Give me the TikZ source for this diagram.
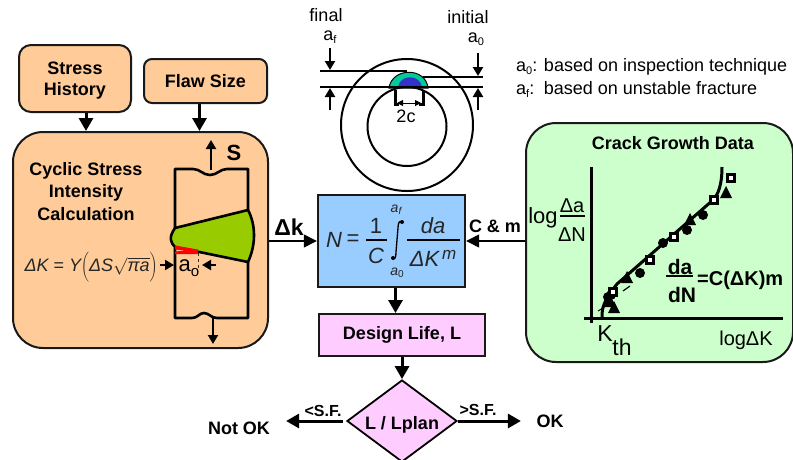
\documentclass[tikz,border=0pt]{standalone}
\usepackage{fontspec}
\setmainfont{Liberation Sans}
\usetikzlibrary{arrows.meta,shapes.geometric,calc}
\definecolor{orangebox}{HTML}{FFCC99}
\definecolor{bluebox}{HTML}{99CCFF}
\definecolor{pinkbox}{HTML}{FFCCFF}
\definecolor{greenbox}{HTML}{CCFFCC}
\definecolor{weld}{HTML}{99CC00}
\definecolor{crescent}{HTML}{00CC99}
\definecolor{core}{HTML}{3333CC}
\newcommand{\fs}[1]{\fontsize{#1}{#1}\selectfont}
\tikzset{
  x=1pt,y=-1pt,
  box/.style={draw=black!90,line width=2pt,inner sep=0pt,align=center,font=\fs{18}\bfseries},
  flow/.style={line width=3pt,-{Triangle[length=13pt,width=14pt]}},
  thinflow/.style={line width=1.3pt,-{Triangle[length=13pt,width=13pt]}},
  small/.style={line width=2.6pt,-{Triangle[length=9pt,width=10pt]}},
  bold/.style={font=\fs{18}\bfseries,inner sep=0pt,align=center},
  plain/.style={font=\fs{18},inner sep=0pt,align=center},
  formula/.style={font=\fs{22}\itshape,inner sep=0pt,text=black!85},
  subs/.style={font=\fs{14}\itshape,inner sep=0pt,text=black!85},
  metal/.style={line width=2.6pt,line join=round},
  bar/.style={line width=1.3pt},
  dim/.style={line width=2.2pt,-{Triangle[length=9pt,width=10pt]}},
  level/.style={line width=2pt},
}
\begin{document}
\begin{tikzpicture}
\useasboundingbox (0,0) rectangle (793,459);
% boxes
\node[box,fill=orangebox,rounded corners=12pt,minimum width=112pt,minimum height=67pt] (stress) at (75,78.5) {};
\node[bold] (stressA) at (75,68) {Stress};
\node[bold] (stressB) at (75,91) {History};
\node[box,fill=orangebox,rounded corners=8pt,minimum width=123pt,minimum height=44pt] (flaw) at (205.5,81) {Flaw Size};
\node[box,fill=orangebox,rounded corners=30pt,minimum width=255pt,minimum height=216pt] (cyc) at (140.5,240) {};
\node[box,fill=bluebox,minimum width=147pt,minimum height=92pt,line width=2.4pt] (eq) at (391.5,241) {};
\node[box,fill=pinkbox,minimum width=166pt,minimum height=42pt] (life) at (402,335) {Design Life, L};
\node[draw=black,fill=pinkbox,diamond,aspect=1.35,line width=1.8pt,inner sep=0pt,minimum width=110pt,minimum height=82pt] (dec) at (402,421) {};
\node[font=\fs{18}\bfseries,inner sep=0pt] (declabel) at (402,425) {L / Lplan};
\node[box,fill=greenbox,rounded corners=30pt,minimum width=267pt,minimum height=239pt] (data) at (659.5,242.5) {};
% flow arrows
\draw[flow] ([xshift=11pt]stress.south) -- ([xshift=11pt]stress.south |- cyc.north);
\draw[flow] ([xshift=-6pt]flaw.south) -- ([xshift=-6pt]flaw.south |- cyc.north);
\draw[thinflow] (cyc.east |- eq.west) -- (eq.west);
\draw[thinflow] (data.west |- eq.east) -- (eq.east);
\draw[flow] ([xshift=4pt]eq.south) -- ([xshift=4pt]eq.south |- life.north);
\draw[flow] (life.south) -- (dec.north);
\draw[flow] ([xshift=-3pt]dec.west) -- ++(-57,0) coordinate (notokEnd);
\draw[flow] (dec.east) -- ++(63,0) coordinate (okEnd);
\node[bold] (dk) at (289,227) {\fs{23}Δk};
\node[bold] (cm) at (495,226) {C \& m};
\node[bold,font=\fs{16}\bfseries] (lsf) at (323,411) {<S.F.};
\node[bold,font=\fs{16}\bfseries] (gsf) at (478,410) {>S.F.};
\node[bold] (notok) at (239,428) {Not OK};
\node[bold] (ok) at (550,421) {OK};
% left box text
\node[bold] (c1) at (86,171) {Cyclic Stress};
\node[bold] (c2) at (86,193) {Intensity};
\node[bold] (c3) at (86,214) {Calculation};
\node[bold,font=\fs{22}\bfseries] (s) at (234,153) {S};
% specimen
\draw[metal] (175,228) -- (175,169) -- (193,169) .. controls (200,169) and (203,175) .. (210,175) .. controls (217,175) and (220,169) .. (227,169) -- (248,169) -- (248,210);
\draw[metal] (175,248) -- (175,318) -- (192,318) .. controls (198,318) and (199,313) .. (204,313) .. controls (209,313) and (211,318) .. (217,318) -- (248,318) -- (248,262);
\draw[metal,fill=weld] (175,228) -- (248,210) .. controls (256,225) and (256,245) .. (248,262) -- (175,247) .. controls (171,243) and (168,238) .. cycle;
\fill[red] (175,245.5) -- (198,249.5) -- (198,254) -- (175,254) -- (175,251.5) -- (186,250.5) -- (175,249.5) -- cycle;
\coordinate (sTop) at (211,170);
\coordinate (sTopEnd) at (211,140);
\coordinate (sBot) at (213,318);
\coordinate (sBotEnd) at (213,344);
\draw[small] (sTop) -- (sTopEnd);
\draw[small] (sBot) -- (sBotEnd);
\draw[black!80,line width=1pt,dashed] (198,253) -- (198,271);
\coordinate (aoL) at (160,265);
\coordinate (aoLE) at (174,265);
\coordinate (aoR) at (216,265);
\coordinate (aoRE) at (202,265);
\draw[small] (aoL) -- (aoLE);
\draw[small] (aoR) -- (aoRE);
\node[inner sep=0pt,font=\fs{22}] (ao) at (189,268) {a\raisebox{-5pt}{\fs{15}o}};
\node[inner sep=0pt,font=\fs{18},text=black!85] (dkeq) at (91,268) {\itshape ΔK \upshape= \itshape Y$\left(\rule[-12pt]{0pt}{28pt}\mbox{\itshape ΔS}\sqrt{\mbox{\itshape πa}}\right)$};
% rings
\draw[line width=2pt] (407,125) circle[radius=66pt];
\draw[line width=2pt] (407,126.5) circle[radius=39.5pt];
\fill[crescent,draw=black,line width=1pt] (389,88) .. controls (392,67) and (426,67) .. (428,88) -- cycle;
\fill[core] (398,87) .. controls (400,74) and (420,74) .. (422,87) -- cycle;
\coordinate (fTopL) at (320,71);
\coordinate (fTopR) at (407,71);
\coordinate (iTopL) at (423,77);
\coordinate (iTopR) at (483,77);
\coordinate (botL) at (320,87);
\coordinate (botR) at (483,87);
\draw[level] (fTopL) -- (fTopR);
\draw[level] (iTopL) -- (iTopR);
\draw[level] (botL) -- (botR);
\draw[dim] (330,48) -- (330,70);
\draw[dim] (330,110) -- (330,88);
\draw[dim] (478,53) -- (478,76);
\draw[dim] (478,110) -- (478,88);
\draw[line width=3pt] (395,90) -- (395,104) -- (399,104);
\draw[line width=3pt] (423,90) -- (423,104) -- (419,104);
\draw[line width=1pt,{Triangle[length=6pt,width=6pt]}-{Triangle[length=6pt,width=6pt]}] (397,103) -- (421,103);
\node[plain] (twoc) at (406,116) {2c};
\node[plain] (final) at (326,15) {final};
\node[plain] (af) at (330,37) {a\raisebox{-3pt}{\fs{11}f}};
\node[plain] (initial) at (468,17) {initial};
\node[plain] (a0) at (476,39) {a\raisebox{-3pt}{\fs{11}0}};
\node[plain,anchor=west] (n1) at (516,67) {a\raisebox{-3pt}{\fs{11}0}: based on inspection technique};
\node[plain,anchor=west] (n2) at (516,89) {a\raisebox{-3pt}{\fs{11}f}:\, based on unstable fracture};
% main formula
\node[formula] (N) at (334,240) {N};
\node[formula,font=\fs{22}] (eqs) at (353,240) {=};
\node[formula,font=\fs{22}] (one) at (376,226) {1};
\node[formula] (C) at (376,256) {C};
\draw[bar] (366,240) -- (387,240);
\draw[line width=1.3pt] (402,222) .. controls (399,220) and (398,224) .. (398,228) -- (396,252) .. controls (396,257) and (395,260) .. (393,258);
\fill (402,222) circle[radius=2pt];
\fill (393,258) circle[radius=2pt];
\node[subs] (lim1) at (396,210) {a\raisebox{-2pt}{\fs{10}f}};
\node[subs,font=\fs{14}] (lim0) at (397,273) {\itshape a\raisebox{-2pt}{\fs{10}\upshape 0}};
\node[formula] (da) at (433,226) {da};
\draw[bar] (407,240) -- (460,240);
\node[formula] (dK) at (433,258) {ΔK\raisebox{7pt}{\fs{17}\,m}};
% graph
\draw[line width=3pt] (591,167) -- (591,323);
\draw[line width=3pt] (584,318) -- (783,318);
\draw[line width=3pt] (602,317) .. controls (602,308) and (603,302) .. (617,284) -- (713,200) .. controls (718,195) and (722,185) .. (722,167);
\draw[line width=1pt] (598,311) -- (603,308);
\draw[line width=1.2pt] (623,291) -- (630,286);
\foreach \x/\y in {608/297,611/295,640/273,663/243,687/230,703/215}{\fill (\x,\y) circle[radius=5pt];}
\foreach \x/\y in {614/307,610/301,627/277,690/219,726/192}{\fill (\x-6,\y+6) -- (\x+6,\y+6) -- (\x,\y-6) -- cycle;}
\foreach \x/\y in {613/292,650/260,674/237,714/200,731/178}{\draw[line width=3pt,fill=white] (\x-3.5,\y-3.5) rectangle (\x+3.5,\y+3.5);}
\node[bold] (cgd) at (673,143) {Crack Growth Data};
\node[plain,font=\fs{22}] (log) at (543,218) {log};
\node[plain,font=\fs{20}] (dA) at (572,206) {Δa};
\draw[bar] (560,216) -- (585,216);
\node[plain,font=\fs{20}] (dN) at (572,235) {ΔN};
\node[bold,font=\fs{21}\bfseries] (gda) at (680,267) {da};
\draw[line width=1.3pt] (666,276) -- (693,276);
\node[bold,font=\fs{21}\bfseries] (gdN) at (682,295) {dN};
\node[bold,anchor=west,font=\fs{20}\bfseries] (law) at (697,280) {=C(ΔK)m};
\node[plain,font=\fs{23}] (K) at (605,334) {K};
\node[plain,font=\fs{23}] (th) at (622,347) {th};
\node[plain,font=\fs{20}] (logdk) at (746,340) {logΔK};
\end{tikzpicture}
\end{document}
